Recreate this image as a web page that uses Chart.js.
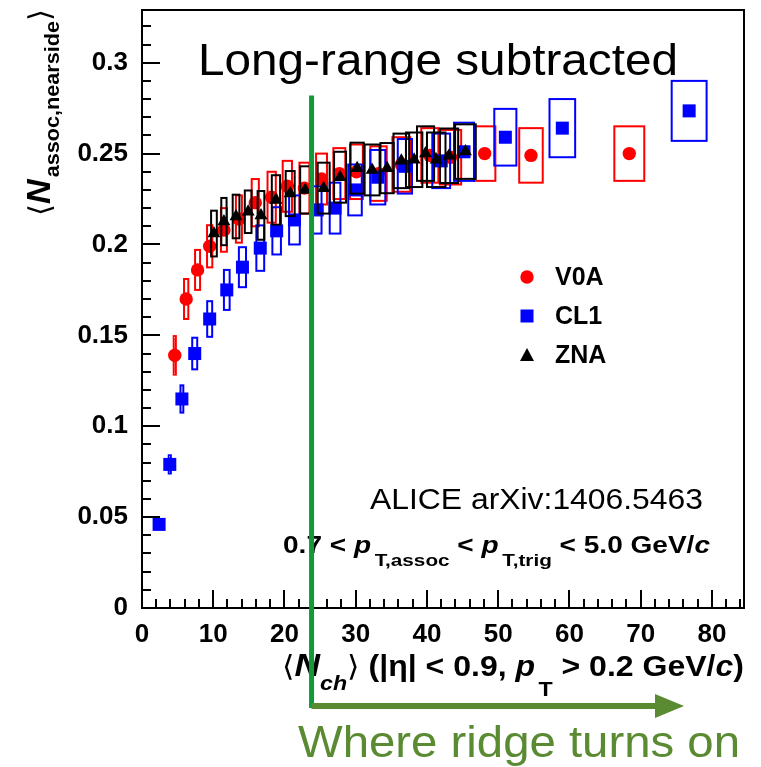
<!DOCTYPE html>
<html>
<head>
<meta charset="utf-8">
<script src="https://cdn.jsdelivr.net/npm/chart.js@4.4.1/dist/chart.umd.min.js"></script>
<style>
  html, body { margin: 0; padding: 0; background: #fff; }
  canvas { display: block; }
</style>
</head>
<body>
<canvas id="myChart" width="761" height="767"></canvas>
<script>
// V0A (red circles)
const v0aX = [4.6, 6.2, 7.8, 9.5, 11.5, 13.6, 15.9, 18.2, 20.4, 22.8, 25.2, 27.7, 30.1, 33.2, 36.4, 40.4, 43.3, 48.1, 54.6, 68.4];
const v0aY = [0.139, 0.170, 0.186, 0.199, 0.208, 0.214, 0.223, 0.226, 0.232, 0.231, 0.236, 0.239, 0.240, 0.239, 0.244, 0.249, 0.248, 0.250, 0.249, 0.250];
const v0aSysX = [0.15, 0.3, 0.35, 0.37, 0.42, 0.42, 0.5, 0.58, 0.65, 0.7, 0.77, 0.84, 0.9, 1.15, 1.25, 1.2, 1.5, 1.5, 1.65, 2.1];
const v0aSysY = [0.0106, 0.011, 0.011, 0.0116, 0.012, 0.013, 0.013, 0.014, 0.014, 0.014, 0.014, 0.014, 0.015, 0.015, 0.015, 0.015, 0.015, 0.015, 0.015, 0.015];

// CL1 (blue squares)
const cl1X = [2.4, 3.9, 5.6, 7.4, 9.5, 11.9, 14.1, 16.6, 18.9, 21.4, 24.6, 27.1, 29.9, 33.1, 36.9, 42.0, 45.2, 51.0, 59.0, 76.8];
const cl1Y = [0.046, 0.079, 0.115, 0.140, 0.159, 0.175, 0.1875, 0.198, 0.2075, 0.2135, 0.219, 0.220, 0.230, 0.237, 0.243, 0.246, 0.251, 0.259, 0.264, 0.2735];
const cl1SysX = [0.1, 0.15, 0.2, 0.35, 0.35, 0.4, 0.5, 0.55, 0.6, 0.75, 0.6, 0.75, 0.95, 1.05, 1.0, 1.25, 1.4, 1.55, 1.8, 2.45];
const cl1SysY = [0.002, 0.005, 0.0075, 0.0087, 0.0098, 0.011, 0.011, 0.0125, 0.013, 0.0135, 0.013, 0.014, 0.014, 0.015, 0.015, 0.015, 0.016, 0.0156, 0.016, 0.0165];

// ZNA (black triangles)
const znaX = [10.1, 11.5, 13.2, 14.9, 16.7, 18.8, 20.8, 22.9, 25.5, 27.8, 30.2, 32.3, 34.4, 36.4, 38.2, 39.8, 41.3, 43.1, 45.4];
const znaY = [0.206, 0.2126, 0.2154, 0.218, 0.216, 0.2245, 0.228, 0.230, 0.231, 0.237, 0.242, 0.241, 0.242, 0.246, 0.2466, 0.250, 0.2466, 0.2488, 0.2511];
const znaSysX = [0.4, 0.37, 0.47, 0.47, 0.47, 0.58, 0.63, 0.7, 0.84, 0.84, 0.93, 1.05, 0.93, 1.1, 1.15, 1.2, 1.3, 1.28, 1.45];
const znaSysY = [0.0126, 0.013, 0.012, 0.0117, 0.0134, 0.0136, 0.0124, 0.013, 0.014, 0.014, 0.014, 0.014, 0.0138, 0.015, 0.015, 0.015, 0.015, 0.015, 0.015];

const legendLabels = ['V0A', 'CL1', 'ZNA'];
const ridgeX = 23.8; // where the ridge turns on
const ridgeTop = 0.282;

const FONT = "'Liberation Sans', Arial, sans-serif";
const palette = { v0a: '#ff0000', cl1: '#0000ff', zna: '#000000', ridge: '#109a38', note: '#5a8a32' };

function toPoints(xs, ys) {
  return xs.map((x, i) => ({ x: x, y: ys[i] }));
}

// draws a line of text made of several pieces (sub/superscripts, italics)
function drawRich(ctx, parts, x, y, align, width) {
  const ws = parts.map((p) => {
    ctx.font = p.font;
    return ctx.measureText(p.t).width + (p.gap || 0);
  });
  const total = ws.reduce((a, b) => a + b, 0);
  const sx = width ? width / total : 1;
  ctx.save();
  ctx.translate(x, y);
  ctx.scale(sx, 1);
  let cx = align === 'right' ? -total : align === 'center' ? -total / 2 : 0;
  ctx.textAlign = 'left';
  ctx.textBaseline = 'alphabetic';
  parts.forEach((p, i) => {
    ctx.font = p.font;
    ctx.fillText(p.t, cx, p.dy || 0);
    cx += ws[i];
  });
  ctx.restore();
}

// systematic boxes, drawn right before each dataset's markers
const boxPlugin = {
  id: 'sysBoxes',
  beforeDatasetDraw(chart, args) {
    const ds = chart.data.datasets[args.index];
    const xs = chart.scales.x;
    const ys = chart.scales.y;
    const a = chart.chartArea;
    const ctx = chart.ctx;
    ctx.save();
    ctx.beginPath();
    ctx.rect(a.left, a.top, a.right - a.left, a.bottom - a.top);
    ctx.clip();
    ctx.strokeStyle = ds.boxColor;
    ctx.lineWidth = 2;
    ds.data.forEach((p, i) => {
      const x0 = xs.getPixelForValue(p.x - ds.sysX[i]);
      const x1 = xs.getPixelForValue(p.x + ds.sysX[i]);
      const y0 = ys.getPixelForValue(p.y + ds.sysY[i]);
      const y1 = ys.getPixelForValue(p.y - ds.sysY[i]);
      ctx.strokeRect(x0, y0, x1 - x0, y1 - y0);
    });
    ctx.restore();
  },
};

const decorPlugin = {
  id: 'decor',
  afterDraw(chart) {
    const ctx = chart.ctx;
    const a = chart.chartArea;
    const xs = chart.scales.x;
    const ys = chart.scales.y;
    ctx.save();

    // frame
    ctx.strokeStyle = '#000';
    ctx.lineWidth = 2;
    ctx.strokeRect(a.left, a.top, a.right - a.left, a.bottom - a.top);

    // inward ticks
    ctx.beginPath();
    for (let i = 0; i * 0.01 <= ys.max + 1e-9; i++) {
      const py = Math.round(ys.getPixelForValue(i * 0.01));
      const len = i % 5 === 0 ? 18 : 9;
      ctx.moveTo(a.left, py);
      ctx.lineTo(a.left + len, py);
    }
    for (let i = 0; i * 2 <= xs.max + 1e-9; i++) {
      const px = Math.round(xs.getPixelForValue(i * 2));
      const len = i % 5 === 0 ? 18 : 9;
      ctx.moveTo(px, a.bottom);
      ctx.lineTo(px, a.bottom - len);
    }
    ctx.stroke();

    ctx.fillStyle = '#000';
    drawRich(ctx, [{ t: 'Long-range subtracted', font: `45px ${FONT}` }], 438, 75, 'center', 480);
    drawRich(ctx, [{ t: 'ALICE arXiv:1406.5463', font: `29px ${FONT}` }], 703, 509, 'right', 333);

    const b = `bold 23px ${FONT}`;
    const bi = `italic bold 23px ${FONT}`;
    const bs = `bold 17px ${FONT}`;
    drawRich(ctx, [
      { t: '0.7 < ', font: b },
      { t: 'p', font: bi, gap: 3 },
      { t: 'T,assoc', font: bs, dy: 13 },
      { t: ' < ', font: b },
      { t: 'p', font: bi, gap: 3 },
      { t: 'T,trig', font: bs, dy: 13 },
      { t: ' < 5.0 GeV/', font: b },
      { t: 'c', font: bi },
    ], 283, 553, 'left', 427);

    // legend
    const lx = 527;
    const rows = [277, 316, 355];
    ctx.fillStyle = palette.v0a;
    ctx.beginPath();
    ctx.arc(lx, rows[0], 6.7, 0, Math.PI * 2);
    ctx.fill();
    ctx.fillStyle = palette.cl1;
    ctx.fillRect(lx - 6.5, rows[1] - 6.5, 13, 13);
    ctx.fillStyle = palette.zna;
    ctx.beginPath();
    ctx.moveTo(lx, rows[2] - 7);
    ctx.lineTo(lx + 7, rows[2] + 6);
    ctx.lineTo(lx - 7, rows[2] + 6);
    ctx.closePath();
    ctx.fill();
    ctx.fillStyle = '#000';
    ctx.font = `bold 25px ${FONT}`;
    ctx.textAlign = 'left';
    ctx.textBaseline = 'middle';
    legendLabels.forEach((t, i) => ctx.fillText(t, 555, rows[i] + 1));

    // x axis title
    const xb = `bold 29px ${FONT}`;
    const xbi = `italic bold 29px ${FONT}`;
    const xs2 = `italic bold 21px ${FONT}`;
    drawRich(ctx, [
      { t: '⟨', font: `29px 'DejaVu Sans', ${FONT}` },
      { t: 'N', font: `italic bold 32px ${FONT}` },
      { t: 'ch', font: xs2, dy: 14 },
      { t: '⟩', font: `29px 'DejaVu Sans', ${FONT}` },
      { t: ' (|η| < 0.9, ', font: xb },
      { t: 'p', font: xbi, gap: 3 },
      { t: 'T', font: `bold 21px ${FONT}`, dy: 20 },
      { t: ' > 0.2 GeV/', font: xb },
      { t: 'c', font: xbi },
      { t: ')', font: xb },
    ], 744, 676, 'right', 462);

    // y axis title (rotated)
    ctx.save();
    ctx.translate(50, 216);
    ctx.rotate(-Math.PI / 2);
    drawRich(ctx, [
      { t: '⟨', font: `30px 'DejaVu Sans', ${FONT}` },
      { t: 'N', font: `italic bold 33px ${FONT}`, gap: 2 },
      { t: 'assoc,nearside', font: `bold 21px ${FONT}`, dy: 9 },
      { t: '⟩', font: `30px 'DejaVu Sans', ${FONT}` },
    ], 0, 0, 'left', 207);
    ctx.restore();

    // ridge marker line and arrow
    const rx = xs.getPixelForValue(ridgeX);
    const rTop = ys.getPixelForValue(ridgeTop);
    ctx.strokeStyle = palette.ridge;
    ctx.lineWidth = 5;
    ctx.beginPath();
    ctx.moveTo(rx, rTop);
    ctx.lineTo(rx, 708);
    ctx.stroke();

    ctx.strokeStyle = palette.note;
    ctx.fillStyle = palette.note;
    ctx.lineWidth = 6;
    ctx.beginPath();
    ctx.moveTo(rx, 706);
    ctx.lineTo(658, 706);
    ctx.stroke();
    ctx.beginPath();
    ctx.moveTo(684, 706);
    ctx.lineTo(655, 694);
    ctx.lineTo(655, 718);
    ctx.closePath();
    ctx.fill();

    drawRich(ctx, [{ t: 'Where ridge turns on', font: `44px ${FONT}` }], 519, 757, 'center', 442);

    ctx.restore();
  },
};

const ctx = document.getElementById('myChart').getContext('2d');
const myChart = new Chart(ctx, {
  type: 'scatter',
  data: {
    datasets: [
      {
        label: 'V0A',
        data: toPoints(v0aX, v0aY),
        sysX: v0aSysX,
        sysY: v0aSysY,
        boxColor: palette.v0a,
        backgroundColor: palette.v0a,
        borderWidth: 0,
        pointStyle: 'circle',
        pointRadius: 6.7,
        order: 3,
      },
      {
        label: 'CL1',
        data: toPoints(cl1X, cl1Y),
        sysX: cl1SysX,
        sysY: cl1SysY,
        boxColor: palette.cl1,
        backgroundColor: palette.cl1,
        borderWidth: 0,
        pointStyle: 'rect',
        pointRadius: 9.2,
        order: 2,
      },
      {
        label: 'ZNA',
        data: toPoints(znaX, znaY),
        sysX: znaSysX,
        sysY: znaSysY,
        boxColor: palette.zna,
        backgroundColor: palette.zna,
        borderWidth: 0,
        pointStyle: 'triangle',
        pointRadius: 7.5,
        order: 1,
      },
    ],
  },
  options: {
    responsive: false,
    animation: false,
    devicePixelRatio: 1,
    events: [],
    layout: { padding: { top: 10, right: 17, left: 0, bottom: 0 } },
    plugins: { legend: { display: false }, tooltip: { enabled: false } },
    scales: {
      x: {
        type: 'linear',
        min: 0,
        max: 84.5,
        grid: { display: false },
        border: { display: false },
        ticks: {
          stepSize: 10,
          includeBounds: false,
          maxRotation: 0,
          autoSkip: false,
          padding: 3,
          color: '#000',
          font: { family: FONT, size: 26, weight: 'bold' },
        },
        afterFit(scale) {
          scale.height = 159;
          scale.paddingLeft = 0;
          scale.paddingRight = 0;
        },
      },
      y: {
        type: 'linear',
        min: 0,
        max: 0.329,
        grid: { display: false },
        border: { display: false },
        ticks: {
          stepSize: 0.05,
          includeBounds: false,
          padding: 6,
          color: '#000',
          font: { family: FONT, size: 26, weight: 'bold' },
          callback: (v) => String(parseFloat(v.toFixed(2))),
        },
        afterFit(scale) {
          scale.width = 142;
          scale.paddingTop = 0;
          scale.paddingBottom = 0;
        },
      },
    },
  },
  plugins: [boxPlugin, decorPlugin],
});
</script>
</body>
</html>
